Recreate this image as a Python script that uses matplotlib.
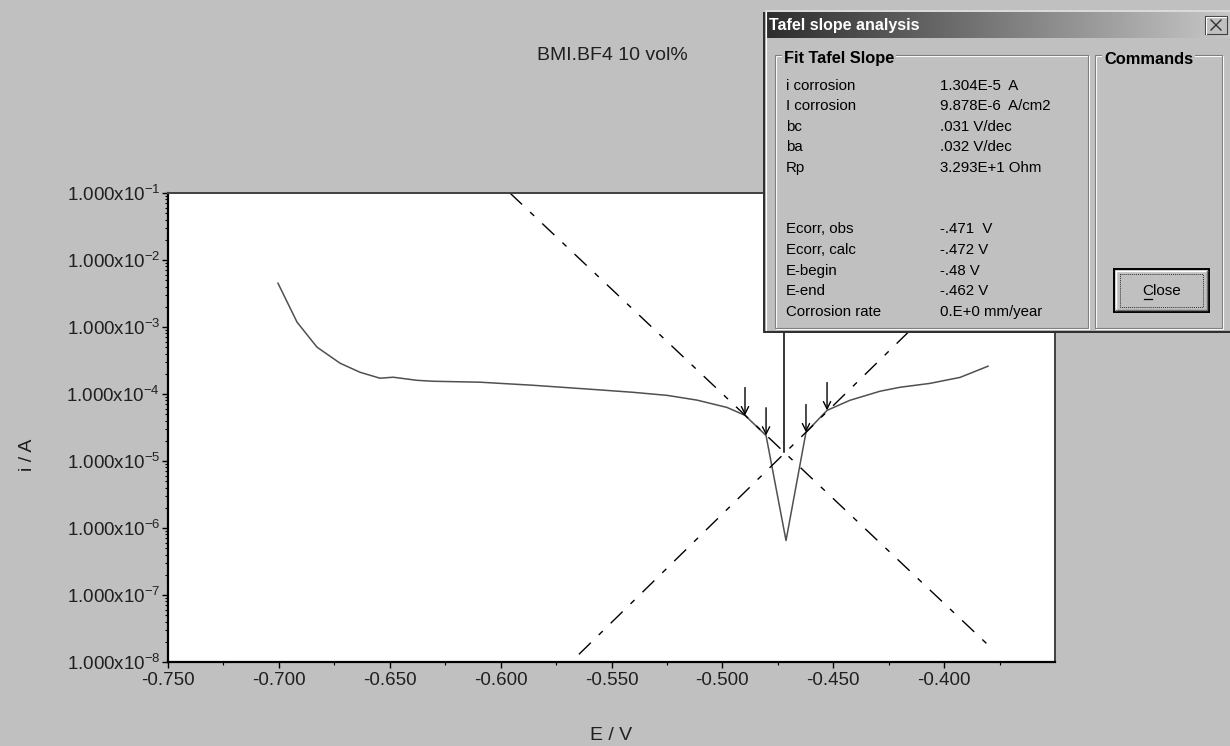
import matplotlib.pyplot as plt
import numpy as np
from matplotlib.patches import Rectangle
from matplotlib.ticker import FixedLocator, FuncFormatter

plt.rcParams['font.family'] = ['Liberation Sans', 'DejaVu Sans']
plt.rcParams['mathtext.default'] = 'regular'

# --- data ---
title = 'BMI.BF4 10 vol%'

# measured polarisation curve
E_scan = [-0.7004, -0.6918, -0.6828, -0.6724, -0.6634, -0.6544, -0.6485, -0.6377,
          -0.6305, -0.6093, -0.5854, -0.5583, -0.5403, -0.5250, -0.5114, -0.4979,
          -0.4898, -0.4803, -0.4713, -0.4623, -0.4528, -0.4425, -0.4289, -0.4199,
          -0.4064, -0.3928, -0.3802]
i_scan = [4.5e-3, 1.18e-3, 5.0e-4, 2.88e-4, 2.11e-4, 1.72e-4, 1.78e-4, 1.60e-4,
          1.55e-4, 1.50e-4, 1.35e-4, 1.17e-4, 1.06e-4, 9.55e-5, 8.1e-5, 6.3e-5,
          4.8e-5, 2.4e-5, 6.5e-7, 2.68e-5, 5.7e-5, 8.05e-5, 1.1e-4, 1.26e-4,
          1.44e-4, 1.77e-4, 2.6e-4]

# tafel fit lines
cath_E = [-0.5958, -0.3802]
cath_i = [1e-1, 1.8e-8]
anod_E = [-0.5647, -0.352]
anod_i = [1.3e-8, 1e-1]

# Ecorr marker
ecorr_E = [-0.4722, -0.4722]
ecorr_i = [1.35e-5, 1e-1]

# fit range arrows
mark_E = [-0.4898, -0.4803, -0.4623, -0.4528]
mark_i = [4.8e-5, 2.4e-5, 2.68e-5, 5.7e-5]

x_ticks = [-0.750, -0.700, -0.650, -0.600, -0.550, -0.500, -0.450, -0.400]
y_exps = [-1, -2, -3, -4, -5, -6, -7, -8]

dlg_names = ['i corrosion', 'I corrosion', 'bc', 'ba', 'Rp',
             'Ecorr, obs', 'Ecorr, calc', 'E-begin', 'E-end', 'Corrosion rate']
dlg_values = ['1.304E-5  A', '9.878E-6  A/cm2', '.031 V/dec', '.032 V/dec', '3.293E+1 Ohm',
              '-.471  V', '-.472 V', '-.48 V', '-.462 V', '0.E+0 mm/year']

W, H = 1230, 746
bg = '#c0c0c0'
fig = plt.figure(figsize=(W / 100, H / 100), dpi=100, facecolor=bg)

ax = fig.add_axes([168 / W, (H - 662) / H, 887 / W, 469 / H])
ax.set_facecolor('white')
ax.set_yscale('log')
ax.set_xlim(-0.75, -0.35)
ax.set_ylim(1e-8, 1e-1)

ax.plot(E_scan, i_scan, color='#505050', lw=1.1)
ax.plot(cath_E, cath_i, color='black', lw=1.0, linestyle=(0, (12, 8, 4, 8)))
ax.plot(anod_E, anod_i, color='black', lw=1.0, linestyle=(0, (12, 8, 4, 8)))
ax.plot(ecorr_E, ecorr_i, color='black', lw=1.1)
for e, i in zip(mark_E, mark_i):
    ax.annotate('', xy=(e, i), xytext=(0, 20), textcoords='offset points',
                arrowprops=dict(arrowstyle='->', color='black', lw=1.0,
                                shrinkA=0, shrinkB=0, mutation_scale=13))

ax.xaxis.set_major_locator(FixedLocator(x_ticks))
ax.xaxis.set_minor_locator(FixedLocator(np.arange(-0.725, -0.35, 0.05)))
ax.xaxis.set_major_formatter(FuncFormatter(lambda v, p: '%.3f' % v))
ax.yaxis.set_major_locator(FixedLocator([10.0 ** k for k in y_exps]))
ax.yaxis.set_major_formatter(FuncFormatter(
    lambda v, p: '1.000x10$^{%d}$' % int(round(np.log10(v)))))
ax.tick_params(which='major', length=4.5, width=1.0, color='black',
               labelsize=13.5, labelcolor='#202020')
ax.tick_params(which='minor', length=2.5, width=0.8, color='black')
ax.tick_params(axis='y', pad=1)
ax.tick_params(axis='x', pad=3)

for s in ['left', 'bottom']:
    ax.spines[s].set_linewidth(1.6)
    ax.spines[s].set_color('black')
for s in ['top', 'right']:
    ax.spines[s].set_linewidth(1.4)
    ax.spines[s].set_color('#404040')

fig.text(612 / W, 1 - 56 / H, title, ha='center', va='center', fontsize=14, color='#202020')
fig.text(28 / W, 1 - 455 / H, 'i / A', ha='center', va='center', rotation=90,
         fontsize=14, color='#202020')
fig.text(611 / W, 1 - 735 / H, 'E / V', ha='center', va='center', fontsize=14, color='#202020')

# --- the dialog window on top ---
dw, dh = 467, 323
dlg = fig.add_axes([763 / W, (H - 333) / H, dw / W, dh / H])
dlg.set_zorder(10)
dlg.set_xlim(0, dw)
dlg.set_ylim(dh, 0)
dlg.axis('off')

dlg.add_patch(Rectangle((0, 0), dw, dh, fc=bg, ec='none'))
# frame
dlg.plot([0.8, 0.8, dw], [0, dh - 0.8, dh - 0.8], color='#303030', lw=1.6)
dlg.plot([0, dw], [0.6, 0.6], color='#e0e0e0', lw=1.2)
dlg.plot([2.5, 2.5], [1.5, dh - 3], color='white', lw=0.8)

# title bar gradient
grad = np.linspace(0.18, 0.78, 256).reshape(1, -1)
dlg.imshow(grad, cmap='gray', vmin=0, vmax=1, aspect='auto',
           extent=(3.5, dw - 1, 28, 2.5), zorder=1)
dlg.text(6, 15.5, 'Tafel slope analysis', color='white', fontweight='bold',
         fontsize=11.5, va='center', ha='left', zorder=3)
# close "x" button
dlg.add_patch(Rectangle((442, 6), 22, 18, fc=bg, ec='#404040', lw=0.8, zorder=3))
dlg.plot([442.5, 442.5, 463], [23.5, 6.5, 6.5], color='white', lw=0.8, zorder=4)
dlg.plot([448, 458], [10, 20], color='#303030', lw=1.0, zorder=4)
dlg.plot([448, 458], [20, 10], color='#303030', lw=1.0, zorder=4)

def group(x0, y0, x1, y1, label):
    dlg.add_patch(Rectangle((x0 + 1, y0 + 1), x1 - x0, y1 - y0, fc='none', ec='white', lw=0.8))
    dlg.add_patch(Rectangle((x0, y0), x1 - x0, y1 - y0, fc='none', ec='#808080', lw=0.8))
    dlg.text(x0 + 9, y0 + 4, label, fontweight='bold', fontsize=11.8, color='black',
             va='center', ha='left',
             bbox=dict(fc=bg, ec='none', pad=1.5))

group(12, 45, 325, 318, 'Fit Tafel Slope')
group(332, 45, 459, 318, 'Commands')

row_y = [76, 96, 117, 137, 158, 219, 240, 261, 281, 302]
for name, val, y in zip(dlg_names, dlg_values, row_y):
    dlg.text(23, y, name, fontsize=10.8, color='black', va='center', ha='left')
    dlg.text(177, y, val, fontsize=10.8, color='black', va='center', ha='left')

# close button
dlg.add_patch(Rectangle((351, 259), 95, 43, fc=bg, ec='black', lw=1.4))
dlg.plot([353, 353, 444], [300, 261, 261], color='white', lw=1.0)
dlg.plot([353, 444, 444], [300, 300, 261], color='#707070', lw=1.0)
dlg.add_patch(Rectangle((357, 264), 83, 33, fc='none', ec='#303030', lw=0.7, linestyle=(0, (1, 1))))
dlg.text(398.5, 281, 'Close', fontsize=11, color='black', va='center', ha='center')
dlg.plot([380.5, 389], [289, 289], color='black', lw=0.9)

fig.savefig('out.png', dpi=100, facecolor=bg)
